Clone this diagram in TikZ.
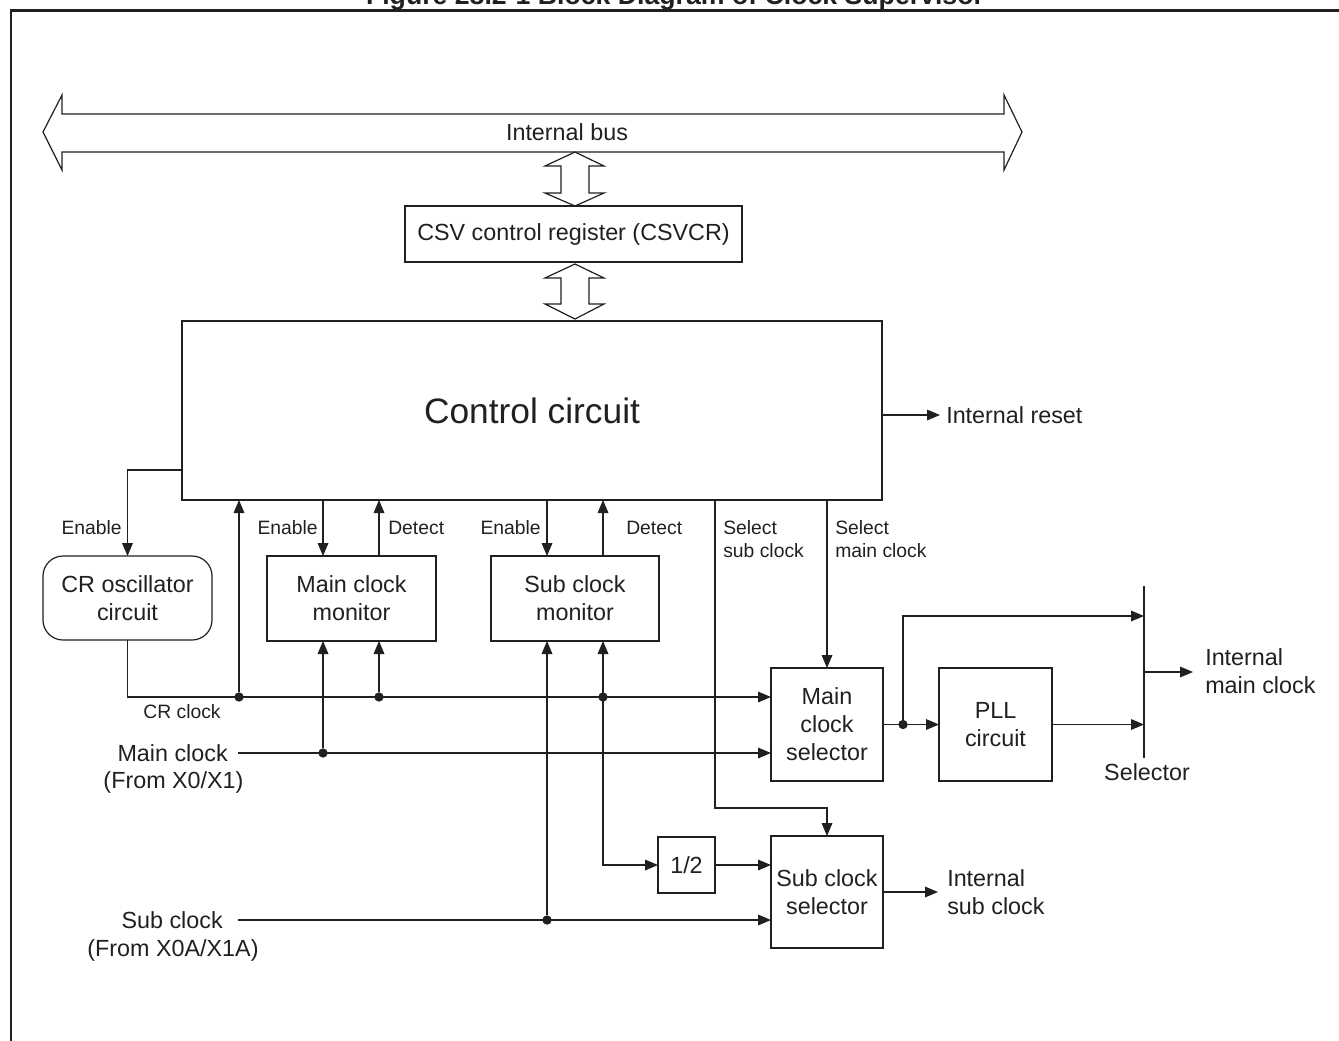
\documentclass[tikz,border=0pt]{standalone}
\usepackage{fontspec}
\setmainfont{Liberation Sans}
\usetikzlibrary{arrows.meta}
\definecolor{ink}{RGB}{35,31,32}
\begin{document}
\begin{tikzpicture}[x=0.75pt,y=-0.75pt,
  wire/.style={draw=ink, line width=0.9pt},
  arr/.style={wire, -{Triangle[length=9.75pt,width=8pt]}},
  darr/.style={wire, {Triangle[length=9.75pt,width=8pt]}-{Triangle[length=9.75pt,width=8pt]}},
  box/.style={draw=ink, line width=0.9pt, inner sep=0pt, outer sep=0pt, align=center,
    text=ink, font=\fontsize{17.5}{21}\selectfont},
  txt/.style={text=ink, inner sep=0pt, align=left, font=\fontsize{17.5}{21}\selectfont},
  lbl/.style={text=ink, inner sep=0pt, align=left, font=\fontsize{14.5}{17.25}\selectfont},
  dot/.style={circle, fill=ink, inner sep=0pt, minimum size=7pt}]
\useasboundingbox (0,0) rectangle (1339,1040);
\begin{scope}
\clip (0,0) rectangle (1339,1040);

% caption and frame
\node[anchor=base, text=ink, inner sep=0pt, font=\bfseries\fontsize{20}{24}\selectfont]
  (caption) at (675,4) {Figure 28.2-1 Block Diagram of Clock Supervisor};
\draw[ink, line width=1.6pt] (11,1060) -- (11,10.5) -- (1360,10.5);

% internal bus
\draw[wire, line join=miter] (43,132) -- (62,95) -- (62,114) -- (1004,114) -- (1004,95)
  -- (1022,132) -- (1004,170) -- (1004,152) -- (62,152) -- (62,170) -- cycle;
\node[txt] (bus) at (567,132) {Internal bus};

% blocks
\node[box, minimum width=252.75pt, minimum height=42pt] (csv) at (573.5,234)
  {CSV control register (CSVCR)};
\node[box, minimum width=525pt, minimum height=134.25pt,
  font=\fontsize{26.5}{30}\selectfont] (ctrl) at (532,410.5) {Control circuit};
\node[box, rounded corners=15pt, minimum width=126.75pt, minimum height=63pt]
  (cro) at (127.5,598) {CR oscillator\\circuit};
\node[box, minimum width=126.75pt, minimum height=63.75pt] (mmon) at (351.5,598.5)
  {Main clock\\monitor};
\node[box, minimum width=126pt, minimum height=63.75pt] (smon) at (575,598.5)
  {Sub clock\\monitor};
\node[box, minimum width=84pt, minimum height=84.75pt] (msel) at (827,724.5)
  {Main\\clock\\selector};
\node[box, minimum width=84.75pt, minimum height=84.75pt] (pll) at (995.5,724.5)
  {PLL\\circuit};
\node[box, minimum width=42.75pt, minimum height=42pt] (half) at (686.5,865) {1/2};
\node[box, minimum width=84pt, minimum height=84pt] (ssel) at (827,892)
  {Sub clock\\selector};

% register access arrows
\draw[wire, line join=miter] (575,152) -- (604,166) -- (589,166) -- (589,193) -- (604,193)
  -- (575,206) -- (545,193) -- (561,193) -- (561,166) -- (545,166) -- cycle;
\draw[wire, line join=miter] (575,264) -- (604,278) -- (589,278) -- (589,304) -- (604,304)
  -- (575,319) -- (545,304) -- (561,304) -- (561,278) -- (545,278) -- cycle;

% clock inputs
\node[txt, anchor=east] (mclk) at (228,753) {Main clock};
\node[txt] (mclkfrom) at (173.5,782) {(From X0/X1)};
\node[txt, anchor=east] (sclk) at (223,920) {Sub clock};
\node[txt] (sclkfrom) at (173,950) {(From X0A/X1A)};

% junction dots
\node[dot] (c1) at (239,697) {};
\node[dot] (c2) at (379,697) {};
\node[dot] (c3) at (603,697) {};
\node[dot] (d4) at (323,753) {};
\node[dot] (d5) at (547,920) {};
\node[dot] (d6) at (903,724.5) {};

% CR clock
\coordinate (yEn) at (0,470);
\draw[arr] (ctrl.west |- yEn) -| (cro.north);
\coordinate (yCR) at (0,697);
\draw[arr] (cro.south) |- (msel.west |- yCR);
\draw[arr] (c1) -- (ctrl.south -| c1);
\draw[arr] (c2) -- (mmon.south -| c2);
\draw[darr] (smon.south -| c3) |- (half.west);

% main and sub clock lines
\draw[arr] ([xshift=7.5pt]mclk.east) -- (msel.west |- mclk.east);
\draw[arr] (d4) -- (mmon.south -| d4);
\draw[arr] ([xshift=11.25pt]sclk.east) -- (ssel.west |- sclk.east);
\draw[arr] (d5) -- (smon.south -| d5);

% monitor control
\draw[arr] (ctrl.south -| d4) -- (mmon.north -| d4);
\draw[arr] (mmon.north -| c2) -- (ctrl.south -| c2);
\draw[arr] (ctrl.south -| d5) -- (smon.north -| d5);
\draw[arr] (smon.north -| c3) -- (ctrl.south -| c3);

% selector control
\coordinate (ss) at (715,808);
\draw[arr] (ctrl.south -| ss) -- (ss) -| (ssel.north);
\draw[arr] (ctrl.south -| msel.north) -- (msel.north);

% main clock path
\coordinate (bt) at (1144,586);
\coordinate (bb) at (1144,758);
\draw[wire] (bt) -- (bb);
\draw[arr] (msel.east) -- (pll.west);
\coordinate (byp) at (903,616);
\draw[arr] (d6) -- (byp) -- (byp -| bt);
\draw[arr] (pll.east) -- (pll.east -| bt);
\node[txt, anchor=west] (imc) at (1205,671) {Internal\\main clock};
\coordinate (mo) at (1144,672);
\draw[arr] (mo) -- ([xshift=-9pt]imc.west |- mo);
\node[txt] (seltxt) at (1147,772) {Selector};

% sub clock path
\draw[arr] (half.east) -- (ssel.west |- half.east);
\node[txt, anchor=west] (isc) at (947,892) {Internal\\sub clock};
\draw[arr] (ssel.east) -- ([xshift=-6.75pt]isc.west);

% reset
\node[txt, anchor=west] (irst) at (946,415) {Internal reset};
\draw[arr] (ctrl.east |- irst.west) -- ([xshift=-4.5pt]irst.west);

% labels
\node[lbl, anchor=east] (en1) at (122,528) {Enable};
\node[lbl, anchor=east] (en2) at (318,528) {Enable};
\node[lbl, anchor=west] (de2) at (388,528) {Detect};
\node[lbl, anchor=east] (en3) at (541,528) {Enable};
\node[lbl, anchor=west] (de3) at (626,528) {Detect};
\node[lbl, anchor=west] (sels) at (723,539.5) {Select\\sub clock};
\node[lbl, anchor=west] (selm) at (835,539.5) {Select\\main clock};
\node[lbl] (crclk) at (182,712) {CR clock};
\end{scope}
\end{tikzpicture}
\end{document}
